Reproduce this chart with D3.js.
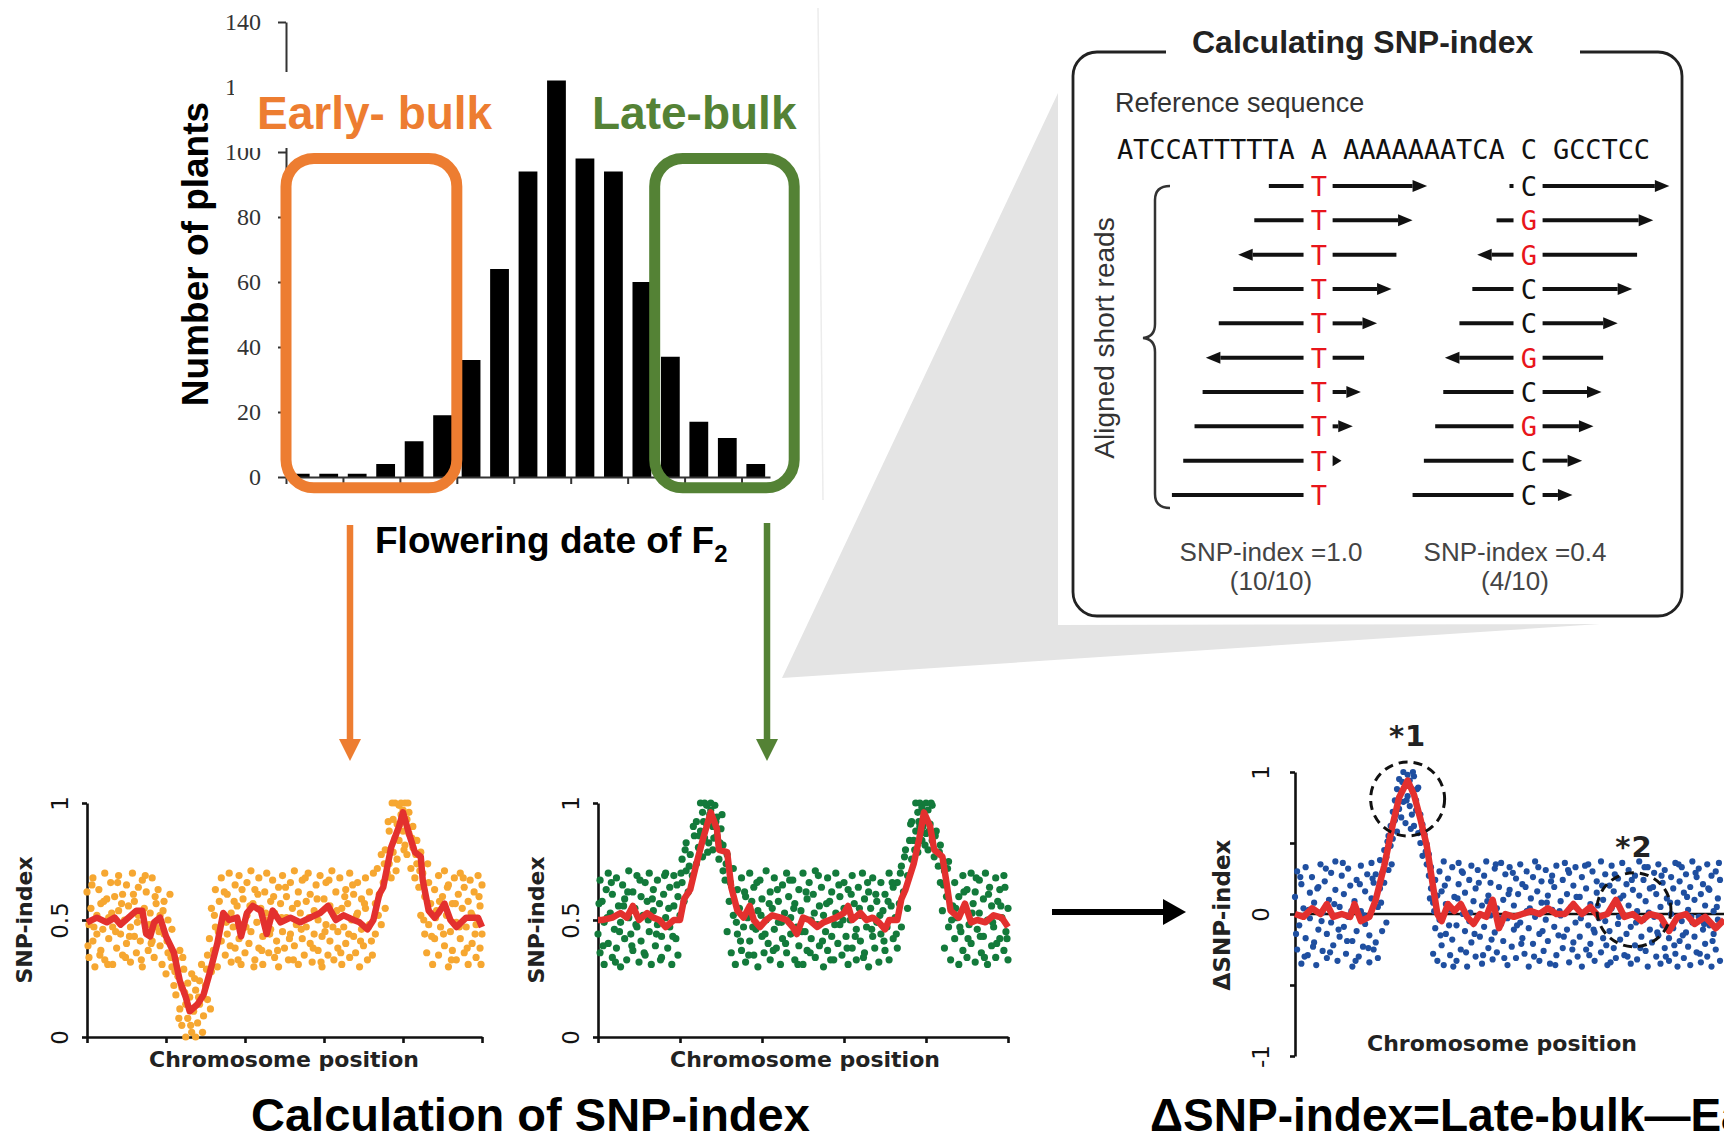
<!DOCTYPE html>
<html>
<head>
<meta charset="utf-8">
<script src="https://cdn.jsdelivr.net/npm/d3@7"></script>
<style>
  body { margin: 0; background: #fff; }
  svg { display: block; }
</style>
</head>
<body>
<div id="chart"></div>
<script>
// ---- histogram data ----
const flowerDays = d3.range(1, 18);
const plantCounts = [1, 1, 1, 4, 11, 19, 36, 64, 94, 122, 98, 94, 60, 37, 17, 12, 4];
const histTicks = [0, 20, 40, 60, 80, 100, 120, 140];
// bulk boxes, in day-slot units and plant counts
const earlyBulk = { name: "Early- bulk", from: 0, to: 6, lo: -3.3, hi: 98 };
const lateBulk = { name: "Late-bulk", from: 12.95, to: 17.85, lo: -3.3, hi: 98 };

// ---- SNP-index illustration ----
const refSeq = "ATCCATTTTTA A AAAAAAATCA C GCCTCC";
const snpCols = [12, 25];
// [start, end, direction] in sequence columns
const readsA = [[9.4, 19.2, 1], [8.5, 18.3, 1], [7.5, 17.3, -1], [7.2, 17.0, 1], [6.3, 16.1, 1],
  [5.5, 15.3, -1], [5.3, 15.1, 1], [4.8, 14.6, 1], [4.1, 13.9, 1], [3.4, 13.2, 1]];
const basesA = "TTTTTTTTTT";
const readsB = [[24.3, 34.2, 1], [23.5, 33.2, 1], [22.3, 32.2, -1], [22.0, 31.9, 1], [21.2, 31.0, 1],
  [20.3, 30.1, -1], [20.2, 30.0, 1], [19.7, 29.5, 1], [19.0, 28.8, 1], [18.3, 28.2, 1]];
const basesB = "CGGCCGCGCC";
const snpResults = [["SNP-index =1.0", "(10/10)"], ["SNP-index =0.4", "(4/10)"]];

// ---- SNP-index plots: chromosome position 0-200, index x100 ----
const earlyLine = [[0,49],[5,51],[10,49],[14,51],[17,48],[21,51],[25,54],[28,54],[30,44],[32,43],
  [34,49],[37,51],[40,43],[44,36],[47,24],[50,17],[52,11],[56,14],[59,18],[62,27],
  [66,40],[69,53],[72,50],[76,51],[78,43],[81,53],[84,56],[88,54],[91,44],[94,54],
  [98,49],[103,51],[108,49],[113,51],[118,53],[122,56],[126,50],[130,52],[135,50],[138,49],
  [142,46],[145,50],[148,61],[150,64],[154,81],[158,90],[160,96],[163,87],[166,79],[169,77],
  [170,67],[173,54],[176,51],[178,53],[181,57],[184,50],[187,47],[192,51],[198,51],[200,47]];

const earlyDots = [[0,62],[1,34],[1,48],[2,55],[3,41],[3,68],[4,30],[5,52],[5,44],[6,63],[7,37],[7,57],[8,46],[9,70],[9,33],
  [10,59],[11,42],[11,51],[12,66],[13,31],[13,47],[14,60],[15,38],[16,54],[16,69],[17,44],[18,35],[18,61],[19,50],[20,40],
  [20,65],[21,56],[22,32],[22,47],[23,70],[24,43],[24,58],[25,36],[26,64],[26,52],[27,41],[28,67],[28,30],[29,55],[30,45],
  [30,62],[31,37],[32,53],[33,68],[33,41],[34,34],[35,57],[35,47],[36,63],[37,39],[37,52],[38,31],
  [39,58],[39,44],[40,27],[41,50],[41,36],[42,61],[43,30],[43,46],[44,22],
  [45,33],[45,18],[46,26],[47,12],[47,37],[48,21],[48,5],[49,29],[50,14],[50,0],[51,23],[51,8],[52,17],[53,2],[53,27],
  [54,11],[55,20],[55,0],[56,6],[57,24],[57,14],[58,31],[59,9],[60,22],[61,35],[61,16],
  [62,42],[63,28],[63,55],[64,37],[65,63],[65,47],[66,30],[67,58],[68,41],[68,68],[69,50],[70,35],
  [71,61],[71,44],[72,70],[73,53],[73,32],[74,47],[75,65],[75,38],[76,56],[77,42],[77,69],[78,31],[79,59],[79,48],[80,36],
  [81,66],[81,52],[82,40],[83,71],[83,45],[84,57],[85,33],[85,63],[86,49],[87,38],[87,68],[88,55],[89,43],[89,31],[90,62],
  [91,50],[91,70],[92,36],[93,58],[93,46],[94,67],[95,34],[95,53],[96,41],[97,64],[97,30],[98,57],[99,45],[99,69],[100,38],
  [101,60],[101,51],[102,33],[103,66],[103,44],[104,55],[105,39],[105,71],[106,48],[107,62],[107,31],[108,53],[109,42],[109,67],[110,35],
  [111,58],[111,47],[112,70],[113,40],[113,61],[114,32],[115,54],[115,44],[116,65],[117,37],[117,50],[118,69],[119,43],[119,30],[120,59],
  [121,48],[121,66],[122,35],[123,56],[123,41],[124,71],[125,52],[125,33],[126,62],[127,45],[127,38],[128,68],[129,55],[129,31],[130,47],
  [131,63],[131,40],[132,57],[133,34],[133,70],[134,50],[135,43],[135,61],[136,36],[137,66],[137,53],[138,30],[139,59],[139,46],[140,39],
  [141,68],[141,55],[142,33],[143,62],[143,48],[144,41],[145,70],
  [146,57],[146,44],[147,72],[148,61],[149,48],[149,78],[150,66],[151,55],[151,80],[152,70],
  [153,74],[153,88],[154,68],[155,93],[155,79],[156,100],[156,85],[157,91],[157,76],[158,99],[158,84],[159,95],[159,100],[160,88],
  [160,97],[161,100],[161,82],[162,93],[162,78],[163,96],[163,87],[164,72],[165,90],[165,81],[166,68],[167,84],[167,74],
  [168,64],[169,79],[169,52],[170,70],[171,44],[171,60],[172,36],[173,66],[173,48],[174,57],[175,31],
  [176,63],[176,42],[177,54],[178,69],[178,35],[179,47],[180,60],[181,39],[181,71],[182,52],[183,30],[183,65],[184,45],[185,57],
  [185,37],[186,68],[187,49],[187,33],[188,61],[189,42],[189,70],[190,55],[191,36],[191,64],[192,47],[193,58],[193,31],[194,67],
  [195,40],[195,52],[196,62],[197,34],[197,48],[198,69],[199,56],[199,38],[200,44],[200,65],
  [0.5,39],[2.5,65],[3.5,47],[6.5,35],[8.5,58],[10.5,31],[12.5,53],[14.5,45],[15.5,66],[17.5,57],[19.5,34],[21.5,43],
  [23.5,61],[25.5,49],[27.5,33],[29.5,69],[31.5,48],[32.5,40],[34.5,60],[36.5,45],[38.5,54],[40.5,41],[42.5,34],
  [44.5,28],[46.5,8],[48.5,34],[49.5,19],[52.5,5],[54.5,25],[56.5,17],[58.5,2],[60.5,29],[62.5,12],
  [64.5,52],[66.5,45],[69.5,62],[70.5,49],[72.5,39],[74.5,58],[76.5,33],[78.5,63],[80.5,47],[82.5,56],[84.5,30],[86.5,61],
  [88.5,37],[90.5,53],[92.5,44],[94.5,60],[96.5,37],[98.5,51],[100.5,64],[102.5,42],[104.5,33],[106.5,57],[108.5,46],[110.5,68],
  [112.5,51],[114.5,38],[116.5,59],[118.5,32],[120.5,45],[122.5,67],[124.5,47],[126.5,54],[128.5,36],[130.5,60],[132.5,44],
  [134.5,65],[136.5,52],[138.5,41],[140.5,57],[142.5,47],[144.5,35],
  [147.5,52],[150.5,74],[152.5,92],[154.5,100],[156.5,71],[158.5,91],[160.5,80],[162.5,100],[164.5,85],[166.5,78],[168.5,71],
  [170.5,50],[172.5,74],[174.5,43],
  [176.5,51],[178.5,58],[180.5,44],[182.5,64],[184.5,33],[186.5,57],[188.5,47],[190.5,68],[192.5,38],[194.5,53],[196.5,44],
  [198.5,60],[199.5,31]];

const lateLine = [[0,50],[2,50],[7,51],[11,53],[14,51],[17,56],[20,50],[24,53],[27,51],[30,50],
  [33,47],[37,50],[40,50],[42,59],[45,63],[48,74],[51,84],[54,93],[55,96],[58,89],
  [59,80],[63,79],[65,64],[68,54],[71,51],[74,56],[76,50],[79,47],[82,50],[85,52],
  [89,51],[92,50],[95,47],[97,44],[100,51],[103,50],[107,47],[110,49],[113,50],[116,51],
  [120,53],[122,56],[124,50],[128,53],[131,50],[134,51],[137,49],[140,46],[142,50],[146,50],
  [148,59],[150,63],[154,74],[157,86],[159,96],[162,90],[164,80],[168,77],[170,66],[172,54],
  [176,51],[179,57],[182,49],[185,50],[189,49],[193,52],[197,51],[200,47]];

const lateDots = [[0,44],[1,67],[1,36],[2,58],[3,49],[3,31],[4,63],[5,40],[5,70],[6,53],[7,34],[7,61],[8,46],[9,68],[9,38],
  [10,56],[11,30],[11,49],[12,65],[13,42],[13,59],[14,33],[15,71],[15,51],[16,44],[17,62],[17,37],[18,55],[19,69],[19,47],
  [20,32],[21,60],[21,41],[22,52],[23,66],[23,35],[24,58],[25,45],[25,70],[26,31],[27,54],[27,63],[28,39],[29,48],[29,67],
  [30,57],[31,34],[31,43],[32,61],[33,51],[33,70],[34,38],[35,64],[35,47],[36,31],[37,56],[37,69],[38,42],[39,60],[39,35],
  [40,52],[41,66],[41,76],[42,58],[43,71],[43,83],[44,62],[45,78],[46,69],[47,86],
  [48,74],[48,92],[49,81],[50,100],[50,88],[51,77],[51,96],[52,100],[52,85],[53,91],[53,99],[54,83],[55,97],[55,100],
  [56,90],[56,80],[57,99],[58,86],[58,94],[59,76],[60,89],[61,82],[61,71],
  [62,67],[63,78],[63,45],[64,58],[65,36],[66,52],[66,72],[67,31],[68,63],[68,44],
  [69,55],[70,37],[70,68],[71,47],[72,60],[72,32],[73,51],[74,70],[74,41],[75,58],[76,35],[76,64],[77,46],[78,54],[78,30],
  [79,67],[80,43],[80,59],[81,36],[82,71],[82,50],[83,40],[84,62],[84,33],[85,55],[86,46],[86,68],[87,38],[88,58],[88,49],
  [89,31],[90,65],[90,42],[91,53],[92,70],[92,36],[93,60],[94,44],[94,51],[95,67],[96,33],[96,57],[97,47],[98,63],[98,39],
  [99,54],[100,70],[100,31],[101,45],[102,59],[102,37],[103,66],[104,50],[104,42],[105,61],[106,34],[106,71],[107,48],[108,56],[108,39],
  [109,64],[110,30],[110,52],[111,45],[112,68],[112,37],[113,58],[114,43],[114,62],[115,33],[116,53],[116,70],[117,40],[118,60],[118,48],
  [119,35],[120,66],[120,55],[121,43],[122,31],[122,63],[123,50],[124,69],[124,38],[125,57],[126,46],[126,33],[127,64],[128,52],[128,41],
  [129,70],[130,36],[130,59],[131,47],[132,62],[132,30],[133,55],[134,43],[134,68],[135,38],[136,58],[136,49],[137,32],[138,66],[138,44],
  [139,54],[140,37],[140,61],[141,47],[142,70],[142,33],[143,56],[144,42],[144,64],[145,51],
  [146,38],[146,66],[147,57],[148,73],[148,47],[149,62],[150,80],[151,69],[151,55],[152,84],
  [153,76],[153,92],[154,84],[155,100],[155,88],[156,79],[156,96],[157,100],[157,90],[158,84],[158,98],[159,93],[160,100],[160,87],
  [161,97],[161,80],[162,91],[163,84],[163,99],[164,77],[165,88],[166,73],
  [167,66],[167,82],[168,54],[169,71],[169,38],[170,60],[171,47],[171,75],[172,33],[173,56],
  [174,66],[174,42],[175,51],[176,31],[176,60],[177,45],[178,69],[178,37],[179,55],[180,63],[180,34],[181,48],[182,70],[182,40],
  [183,57],[184,32],[184,62],[185,46],[186,67],[186,53],[187,36],[188,59],[188,43],[189,70],[190,50],[190,31],[191,64],[192,39],
  [192,56],[193,47],[194,68],[194,34],[195,58],[196,42],[196,63],[197,51],[198,37],[198,69],[199,45],[200,55],[200,33],
  [0.5,57],[2.5,39],[4.5,51],[6.5,66],[8.5,32],[10.5,45],[12.5,56],[14.5,62],[16.5,39],[18.5,48],[20.5,67],[22.5,36],
  [24.5,50],[26.5,59],[28.5,44],[30.5,33],[32.5,69],[34.5,55],[36.5,43],[38.5,65],[40.5,70],[42.5,80],[44.5,73],
  [46.5,90],[49.5,86],[51.5,92],[53.5,79],[54.5,95],[56.5,85],[57.5,92],[59.5,83],[60.5,95],[62.5,74],[64.5,66],[67.5,49],
  [69.5,41],[71.5,62],[73.5,35],[75.5,47],[77.5,66],[79.5,52],[81.5,44],[83.5,57],[85.5,37],[87.5,63],[89.5,49],[91.5,40],
  [93.5,67],[95.5,55],[97.5,31],[99.5,45],[101.5,62],[103.5,36],[105.5,53],[107.5,69],[109.5,41],[111.5,57],[113.5,33],
  [115.5,48],[117.5,65],[119.5,50],[121.5,38],[123.5,61],[125.5,43],[127.5,55],[129.5,34],[131.5,66],[133.5,46],[135.5,61],
  [137.5,52],[139.5,41],[141.5,58],[143.5,66],[145.5,44],
  [147.5,70],[149.5,77],[152.5,91],[154.5,80],[156.5,92],[158.5,90],[159.5,82],[161.5,88],[162.5,100],[164.5,86],[166.5,79],
  [168.5,65],[170.5,72],[172.5,50],
  [174.5,55],[176.5,47],[178.5,62],[180.5,42],[182.5,53],[184.5,68],[186.5,43],[188.5,34],[190.5,61],[192.5,49],[194.5,40],
  [196.5,56],[198.5,64],[199.5,42]];

// delta SNP-index x100
const deltaLine = [[0,0],[4,-2],[8,4],[12,0],[15,7],[18,-2],[22,0],[26,-2],[28,7],[31,-5],
  [35,-2],[38,10],[42,34],[46,63],[49,82],[53,94],[56,84],[59,67],[62,48],[65,19],
  [67,0],[69,-5],[72,7],[75,2],[78,7],[81,-2],[84,-7],[87,0],[90,-2],[93,10],
  [96,-10],[99,0],[103,-2],[107,0],[111,2],[115,0],[119,4],[123,0],[127,0],[131,7],
  [135,0],[139,5],[143,-2],[147,0],[151,10],[155,-2],[159,0],[163,-5],[167,0],[172,-2],
  [176,-12],[180,-2],[184,0],[188,-7],[193,-2],[198,-10],[202,-4]];

const deltaDots = [[0,12],[1,-25],[1,30],[2,-8],[3,21],[3,-35],[4,4],[5,-17],[5,33],[6,-29],[7,15],[7,-3],[8,26],[9,-20],[9,8],
  [10,-36],[11,19],[11,-11],[12,35],[13,-26],[13,1],[14,23],[15,-14],[15,-31],[16,10],[17,29],[17,-6],[18,-22],[19,17],[19,37],
  [20,-33],[21,5],[21,-16],[22,27],[23,-9],[23,14],[24,-28],[25,32],[25,-2],[26,20],[27,-37],[27,-19],[28,9],[29,24],[29,-12],
  [30,-30],[31,34],[31,2],[32,-23],[33,16],[33,-7],[34,28],[35,-34],[35,-15],[36,11],[36,36],[37,-25],[37,22],
  [38,-20],[38,28],[39,-31],[39,5],[40,18],[40,38],[41,-12],[41,29],[42,45],[42,22],[43,-6],[43,40],[44,55],[44,31],[45,62],
  [45,48],[46,72],[46,53],[47,66],[47,80],[48,88],[48,58],[49,74],[49,95],[50,86],[50,68],[51,100],[51,79],[52,91],[52,64],
  [53,98],[53,83],[54,76],[54,94],[55,88],[55,70],[56,97],[56,62],[57,80],[57,73],[58,89],[58,57],[59,70],[59,50],[60,63],
  [60,41],[61,56],[62,35],[62,49],[63,27],[63,42],[64,18],[64,33],[65,8],[65,-28],[66,24],[66,-10],[67,-33],[67,13],
  [68,30],[68,-4],[69,-22],[69,16],[70,37],[70,-36],[71,7],[71,-14],[72,25],[73,-29],[73,3],[74,33],[74,-18],[75,12],[76,-8],
  [76,-33],[77,21],[77,36],[78,-25],[79,0],[79,29],[80,-12],[80,15],[81,-37],[82,24],[82,-5],[83,34],[83,-20],[84,9],[85,-30],
  [85,18],[86,-2],[86,31],[87,-16],[88,-35],[88,6],[89,27],[89,-9],[90,37],[91,-24],[91,13],[92,-1],[92,22],[93,-32],[94,32],
  [94,-13],[95,4],[95,-27],[96,19],[97,36],[97,-7],[98,-19],[98,10],[99,28],[100,-36],[100,-3],[101,17],[101,33],[102,-23],[103,6],
  [103,-11],[104,25],[104,-31],[105,14],[106,-6],[106,35],[107,-17],[107,21],[108,-28],[109,2],[109,30],[110,-37],[110,-10],[111,11],[112,26],
  [112,-21],[113,-2],[113,37],[114,16],[115,-33],[115,-14],[116,8],[116,23],[117,-26],[118,31],[118,-4],[119,13],[119,-19],[120,-35],[121,3],
  [121,27],[122,-9],[122,19],[123,34],[123,-29],[124,-15],[125,9],[125,-1],[126,24],[126,-24],[127,36],[128,-11],[128,14],[129,-34],[129,29],
  [130,5],[131,-20],[131,20],[132,-6],[132,33],[133,-30],[134,12],[134,-16],[135,26],[135,-37],[136,1],[137,18],[137,-25],[138,35],[138,-8],
  [139,-21],[139,7],[140,30],[141,-13],[141,-33],[142,15],[142,23],[143,-3],[144,-27],[144,37],[145,10],[145,-17],[146,-5],[146,28],[147,-36],
  [148,20],[148,-12],[149,4],[149,34],[150,-24],[150,16],[151,-31],[152,25],[152,-7],[153,-18],[153,11],[154,36],[155,-1],[155,-29],[156,21],
  [156,-14],[157,6],[157,31],[158,-35],[158,-9],[159,17],[160,-22],[160,27],[161,2],[161,-32],[162,13],[162,37],[163,-16],[164,-4],[164,24],
  [165,-26],[165,9],[166,33],[166,-37],[167,-11],[167,18],[168,-20],[169,29],[169,-2],[170,-30],[170,14],[171,35],[171,-15],[172,5],[172,-35],
  [173,22],[173,-8],[174,-24],[174,31],[175,11],[176,-17],[176,-33],[177,26],[177,0],[178,-10],[178,18],[179,36],[179,-28],[180,-37],[180,8],
  [181,-19],[181,23],[182,-5],[182,33],[183,15],[183,-31],[184,-13],[184,28],[185,3],[185,-23],[186,-36],[186,19],[187,37],[187,-6],[188,-16],
  [188,10],[189,26],[189,-27],[190,-2],[190,32],[191,-34],[191,14],[192,-11],[192,21],[193,-21],[193,6],[194,35],[194,-30],[195,-8],[195,17],
  [196,27],[196,-37],[197,-14],[197,2],[198,30],[198,-25],[199,11],[199,-4],[200,24],[200,-33],
  [0.5,-14],[2.5,26],[4.5,-30],[6.5,3],[8.5,-23],[10.5,18],[12.5,-5],[14.5,32],[16.5,-27],[18.5,7],[20.5,-11],[22.5,36],
  [24.5,-19],[26.5,2],[28.5,-33],[30.5,21],[32.5,-1],[34.5,-24],[36.5,25],
  [40.5,8],[43.5,51],[45.5,35],[47.5,70],[50.5,93],[52.5,80],[54.5,60],[55.5,100],[57.5,88],[59.5,58],[61.5,44],[63.5,11],[65.5,2],
  [68.5,-15],[70.5,20],[72.5,-8],[74.5,-37],[76.5,11],[78.5,30],[80.5,-27],[82.5,1],[84.5,-14],[86.5,22],[88.5,-29],[90.5,9],
  [92.5,-18],[94.5,35],[96.5,-3],[98.5,-31],[100.5,14],[102.5,29],[104.5,-8],[106.5,-21],[108.5,19],[110.5,4],[112.5,-30],
  [114.5,33],[116.5,-12],[118.5,8],[120.5,23],[122.5,-36],[124.5,2],[126.5,-16],[128.5,31],[130.5,-25],[132.5,12],[134.5,-3],
  [136.5,34],[138.5,-29],[140.5,-11],[142.5,6],[144.5,20],[146.5,-22],[148.5,-34],[150.5,28],[152.5,-2],[154.5,13],[156.5,-30],
  [158.5,24],[160.5,-6],[162.5,-24],[164.5,33],[166.5,1],[168.5,19],[170.5,-13],[172.5,27],[174.5,-30],[176.5,8],[178.5,-22],
  [180.5,35],[182.5,-15],[184.5,12],[186.5,-2],[188.5,29],[190.5,-28],[192.5,-7],[194.5,18],[196.5,-19],[198.5,5],[199.5,36]];

const deltaMarks = [{ label: "*1", x: 53, y: 81 }, { label: "*2", x: 159.5, y: 3 }];

// ---- drawing ----
const W = 1724, H = 1139;
const ORANGE = "#ed7d31", GREEN = "#548235", RED = "#e3302e";
const SANS = "Liberation Sans, Arial, sans-serif";
const DEJA = "DejaVu Sans, sans-serif";
const MONO = "DejaVu Sans Mono, monospace";

const svg = d3.select("#chart").append("svg")
  .attr("width", W)
  .attr("height", H)
  .attr("font-family", SANS);

// callout wedge behind the SNP box
svg.append("polygon")
  .attr("points", "782,678 1058,93 1058,625 1600,624")
  .attr("fill", "#e4e4e4");

// histogram
const hx = d3.scaleBand().domain(flowerDays).range([286, 770]).paddingInner(0.34).paddingOuter(0.17);
const hxl = d3.scaleLinear().domain([0, flowerDays.length]).range([286, 770]);
const hy = d3.scaleLinear().domain([0, 140]).range([477, 22]);

const hist = svg.append("g");

hist.append("line")
  .attr("x1", 818).attr("y1", 8).attr("x2", 823).attr("y2", 500)
  .attr("stroke", "#ececec").attr("stroke-width", 1.5);

hist.append("g")
  .attr("transform", `translate(${hxl(0)},0)`)
  .call(d3.axisLeft(hy).tickValues(histTicks).tickSizeInner(8).tickSizeOuter(0).tickPadding(17))
  .call(g => g.select(".domain").attr("stroke", "#333").attr("stroke-width", 2))
  .call(g => g.selectAll(".tick line").attr("stroke", "#333").attr("stroke-width", 2))
  .call(g => g.selectAll(".tick text")
    .attr("font-family", "Liberation Serif, serif")
    .attr("font-size", 24)
    .attr("fill", "#333"));

hist.selectAll("rect.bar")
  .data(plantCounts)
  .join("rect")
  .attr("class", "bar")
  .attr("x", (d, i) => hx(flowerDays[i]))
  .attr("y", d => hy(d))
  .attr("width", hx.bandwidth())
  .attr("height", d => hy(0) - hy(d))
  .attr("fill", "#000");

hist.append("g")
  .attr("transform", `translate(0,${hy(0)})`)
  .call(d3.axisBottom(hxl).tickValues(d3.range(0, 17, 2)).tickSizeInner(7).tickSizeOuter(0).tickFormat(""))
  .call(g => g.select(".domain").attr("stroke", "#333").attr("stroke-width", 2))
  .call(g => g.selectAll(".tick line").attr("stroke", "#333").attr("stroke-width", 2));

// white label patch that hides part of the axis
hist.append("rect")
  .attr("x", 234).attr("y", 72).attr("width", 300).attr("height", 76)
  .attr("fill", "#fff");

[[earlyBulk, ORANGE, 257], [lateBulk, GREEN, 592]].forEach(([b, color, tx]) => {
  hist.append("rect")
    .attr("x", hxl(b.from))
    .attr("y", hy(b.hi))
    .attr("width", hxl(b.to) - hxl(b.from))
    .attr("height", hy(b.lo) - hy(b.hi))
    .attr("rx", 28)
    .attr("fill", "none")
    .attr("stroke", color)
    .attr("stroke-width", 11);
  hist.append("text")
    .attr("x", tx).attr("y", 129)
    .attr("font-size", 46).attr("font-weight", "bold")
    .attr("fill", color)
    .text(b.name);
});

hist.append("text")
  .attr("transform", "translate(208,254) rotate(-90)")
  .attr("text-anchor", "middle")
  .attr("font-size", 37).attr("font-weight", "bold")
  .text("Number of plants");

const fl = hist.append("text")
  .attr("x", 375).attr("y", 553)
  .attr("font-size", 37).attr("font-weight", "bold");
fl.append("tspan").text("Flowering date of F");
fl.append("tspan").attr("font-size", 24).attr("dy", 9).text("2");

// arrows down to the bulk plots
function downArrow(x, y0, y1, color) {
  svg.append("line")
    .attr("x1", x).attr("x2", x).attr("y1", y0).attr("y2", y1 - 20)
    .attr("stroke", color).attr("stroke-width", 6.5);
  svg.append("path")
    .attr("d", `M${x - 11},${y1 - 22}L${x + 11},${y1 - 22}L${x},${y1}Z`)
    .attr("fill", color);
}
downArrow(350, 525, 761, ORANGE);
downArrow(767, 523, 761, GREEN);

// SNP-index box
const box = svg.append("g");
box.append("rect")
  .attr("x", 1073).attr("y", 52).attr("width", 609).attr("height", 564)
  .attr("rx", 24)
  .attr("fill", "#fff").attr("stroke", "#222").attr("stroke-width", 2.8);
box.append("rect")
  .attr("x", 1166).attr("y", 44).attr("width", 414).attr("height", 16)
  .attr("fill", "#fff");
box.append("text")
  .attr("x", 1192).attr("y", 53)
  .attr("font-size", 32).attr("font-weight", "bold").attr("fill", "#222")
  .text("Calculating SNP-index");
box.append("text")
  .attr("x", 1115).attr("y", 112)
  .attr("font-size", 27).attr("fill", "#333")
  .text("Reference sequence");

const sx = d3.scaleLinear().domain([0, refSeq.length]).range([1117, 1650]);
const ry = d3.scaleLinear().domain([0, 9]).range([186, 495]);

box.selectAll("text.seq")
  .data(refSeq.split(""))
  .join("text")
  .attr("class", "seq")
  .attr("x", (d, i) => sx(i + 0.5))
  .attr("y", 159)
  .attr("text-anchor", "middle")
  .attr("font-family", MONO)
  .attr("font-size", 27)
  .attr("fill", "#111")
  .text(d => d);

function drawReads(reads, bases, col) {
  const c = col + 0.5;
  const headLen = 0.9;
  reads.forEach(([s, e, dir], i) => {
    const y = ry(i);
    const g = box.append("g");
    let leftStart = s, rightEnd = e;
    const leftEnd = c - 0.95, rightStart = c + 0.85;
    if (dir < 0) {
      const base = s + headLen;
      g.append("path")
        .attr("d", `M${sx(s)},${y}L${sx(base)},${y - 6}L${sx(base)},${y + 6}Z`)
        .attr("fill", "#111");
      leftStart = base;
    } else if (e > rightStart) {
      const base = Math.max(rightStart, e - headLen);
      const hh = 6 * Math.min(1, (e - base) / headLen + 0.3);
      g.append("path")
        .attr("d", `M${sx(e)},${y}L${sx(base)},${y - hh}L${sx(base)},${y + hh}Z`)
        .attr("fill", "#111");
      rightEnd = base;
    }
    if (leftEnd > leftStart) {
      g.append("line").attr("x1", sx(leftStart)).attr("x2", sx(leftEnd)).attr("y1", y).attr("y2", y)
        .attr("stroke", "#111").attr("stroke-width", 4);
    }
    if (rightEnd > rightStart) {
      g.append("line").attr("x1", sx(rightStart)).attr("x2", sx(rightEnd)).attr("y1", y).attr("y2", y)
        .attr("stroke", "#111").attr("stroke-width", 4);
    }
    const b = bases[i];
    g.append("text")
      .attr("x", sx(c)).attr("y", y + 10)
      .attr("text-anchor", "middle")
      .attr("font-family", MONO)
      .attr("font-size", 27)
      .attr("fill", b === "C" ? "#111" : "#e8151b")
      .text(b);
  });
}
drawReads(readsA, basesA, snpCols[0]);
drawReads(readsB, basesB, snpCols[1]);

box.append("path")
  .attr("d", "M1170,186Q1155,186 1155,200L1155,324Q1155,337 1143,338Q1155,339 1155,352L1155,494Q1155,508 1170,508")
  .attr("fill", "none").attr("stroke", "#333").attr("stroke-width", 2.5);
box.append("text")
  .attr("transform", "translate(1114,338) rotate(-90)")
  .attr("text-anchor", "middle")
  .attr("font-size", 28).attr("fill", "#333")
  .text("Aligned short reads");

[1271, 1515].forEach((cx, k) => {
  snpResults[k].forEach((t, j) => {
    box.append("text")
      .attr("x", cx).attr("y", 561 + j * 29)
      .attr("text-anchor", "middle")
      .attr("font-size", 26).attr("fill", "#444")
      .text(t);
  });
});

// SNP-index plots
function drawPanel(o) {
  const x = d3.scaleLinear().domain([0, 200]).range(o.xRange);
  const y = d3.scaleLinear().domain(o.yDomain).range(o.yRange);
  const g = svg.append("g");
  const styleAxis = sel => {
    sel.select(".domain").attr("stroke", "#111").attr("stroke-width", 2.6);
    sel.selectAll(".tick line").attr("stroke", "#111").attr("stroke-width", 2.6);
  };

  if (o.zeroLine) {
    g.append("line")
      .attr("x1", x(0)).attr("x2", x(202)).attr("y1", y(0)).attr("y2", y(0))
      .attr("stroke", "#111").attr("stroke-width", 2.6);
  } else {
    g.append("g")
      .attr("transform", `translate(0,${y(o.yDomain[0])})`)
      .call(d3.axisBottom(x).tickValues(d3.range(0, 201, 40)).tickSizeInner(6).tickSizeOuter(0).tickFormat(""))
      .call(styleAxis);
  }

  const ya = g.append("g")
    .attr("transform", `translate(${x(0)},0)`)
    .call(d3.axisLeft(y).tickValues(o.yTicks).tickSizeInner(5).tickSizeOuter(0).tickFormat(o.yFormat))
    .call(styleAxis);
  ya.selectAll(".tick text")
    .attr("x", 0)
    .attr("dy", "0.36em")
    .attr("transform", `translate(${-o.labelGap},0) rotate(-90)`)
    .attr("text-anchor", "middle")
    .attr("font-family", DEJA)
    .attr("font-size", 23)
    .attr("fill", "#111");

  g.append("g").selectAll("circle")
    .data(o.dots)
    .join("circle")
    .attr("cx", d => x(d[0]))
    .attr("cy", d => y(d[1]))
    .attr("r", o.r)
    .attr("fill", o.dotColor);

  g.append("path")
    .datum(o.line)
    .attr("fill", "none")
    .attr("stroke", RED)
    .attr("stroke-width", 6.5)
    .attr("stroke-linejoin", "round")
    .attr("d", d3.line().x(d => x(d[0])).y(d => y(d[1])));

  g.append("text")
    .attr("transform", `translate(${o.yLabelX},${o.yLabelY}) rotate(-90)`)
    .attr("text-anchor", "middle")
    .attr("dy", "0.36em")
    .attr("font-family", DEJA)
    .attr("font-weight", "bold")
    .attr("font-size", o.yLabelSize)
    .attr("fill", "#222")
    .text(o.yLabel);

  g.append("text")
    .attr("x", o.xLabelX).attr("y", o.xLabelY)
    .attr("text-anchor", "middle")
    .attr("font-family", DEJA)
    .attr("font-weight", "bold")
    .attr("font-size", o.xLabelSize)
    .attr("fill", "#222")
    .text("Chromosome position");

  (o.marks || []).forEach(m => {
    g.append("circle")
      .attr("cx", x(m.x)).attr("cy", y(m.y)).attr("r", 37)
      .attr("fill", "none").attr("stroke", "#111")
      .attr("stroke-width", 3).attr("stroke-dasharray", "9 6");
    g.append("text")
      .attr("x", x(m.x)).attr("y", y(m.y) - 53)
      .attr("text-anchor", "middle")
      .attr("font-family", DEJA)
      .attr("font-size", 29).attr("font-weight", "bold")
      .attr("letter-spacing", 1)
      .attr("fill", "#222")
      .text(m.label);
  });
}

const snpFmt = d => String(d / 100);

drawPanel({
  xRange: [87, 482], yDomain: [0, 100], yRange: [1037, 803],
  yTicks: [0, 50, 100], yFormat: snpFmt, labelGap: 27,
  dots: earlyDots, dotColor: "#f6a731", r: 3.6, line: earlyLine,
  yLabel: "SNP-index", yLabelX: 24, yLabelY: 920, yLabelSize: 22,
  xLabelX: 284, xLabelY: 1067, xLabelSize: 22
});

drawPanel({
  xRange: [598, 1008], yDomain: [0, 100], yRange: [1037, 803],
  yTicks: [0, 50, 100], yFormat: snpFmt, labelGap: 27,
  dots: lateDots, dotColor: "#137a3b", r: 3.6, line: lateLine,
  yLabel: "SNP-index", yLabelX: 536, yLabelY: 920, yLabelSize: 22,
  xLabelX: 805, xLabelY: 1067, xLabelSize: 22
});

drawPanel({
  xRange: [1295, 1720], yDomain: [-100, 100], yRange: [1056, 772],
  yTicks: [-100, -50, 0, 50, 100], yFormat: d => (d % 100 === 0 ? String(d / 100) : ""), labelGap: 34,
  zeroLine: true,
  dots: deltaDots, dotColor: "#1f4fa0", r: 3.1, line: deltaLine,
  yLabel: "ΔSNP-index", yLabelX: 1222, yLabelY: 915, yLabelSize: 23,
  xLabelX: 1502, xLabelY: 1051, xLabelSize: 22,
  marks: deltaMarks
});

// arrow to delta plot
svg.append("line")
  .attr("x1", 1052).attr("x2", 1166).attr("y1", 912).attr("y2", 912)
  .attr("stroke", "#000").attr("stroke-width", 6);
svg.append("path")
  .attr("d", "M1163,899L1163,925L1186,912Z")
  .attr("fill", "#000");

// captions
svg.append("text")
  .attr("x", 251).attr("y", 1131)
  .attr("font-size", 47).attr("font-weight", "bold")
  .text("Calculation of SNP-index");
svg.append("text")
  .attr("x", 1150).attr("y", 1131)
  .attr("font-size", 46).attr("font-weight", "bold")
  .text("ΔSNP-index=Late-bulk—Early-bulk");
</script>
</body>
</html>
